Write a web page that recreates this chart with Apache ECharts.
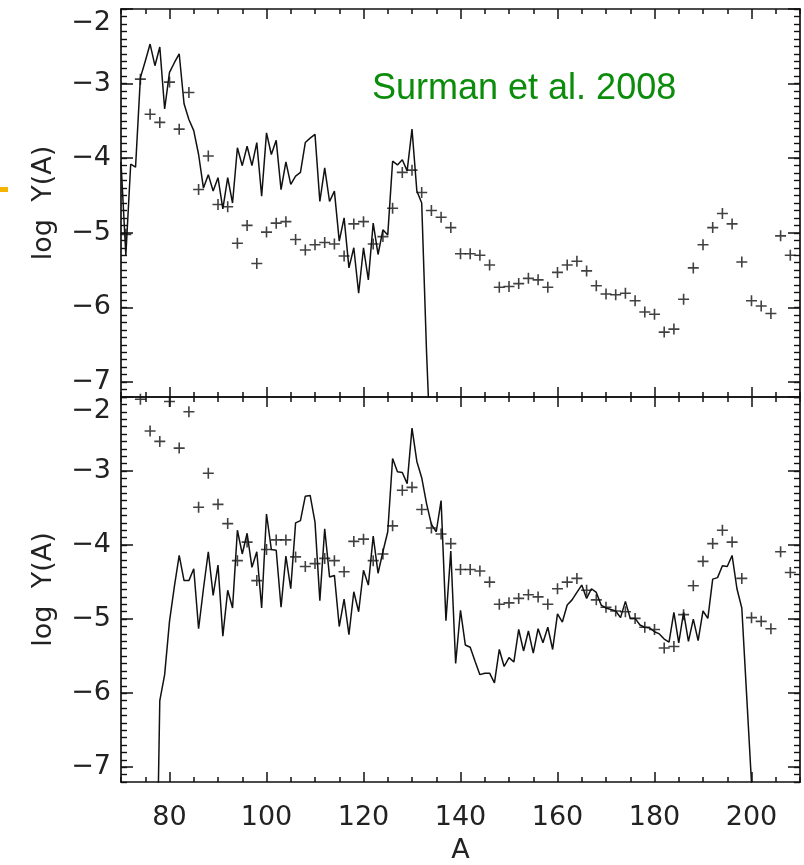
<!DOCTYPE html>
<html>
<head>
<meta charset="utf-8">
<script src="https://cdn.jsdelivr.net/npm/echarts@6/dist/echarts.min.js"></script>
<style>
html,body{margin:0;padding:0;background:#fff;}
#chart{width:804px;height:865px;}
</style>
</head>
<body>
<div id="chart"></div>
<script>
// ---- data ----
const xMajorTicks = [80, 100, 120, 140, 160, 180, 200];
const xTickLabels = ['80', '100', '120', '140', '160', '180', '200'];
const yMajorTicks = [-7, -6, -5, -4, -3, -2];
const yTickLabels = ['\u22127', '\u22126', '\u22125', '\u22124', '\u22123', '\u22122'];
const xName = 'A';
const yName = 'log  Y(A)';
const noteText = 'Surman et al. 2008';

// top panel: calculated abundances (solid line), first A = 70, one value per A
const topLineA0 = 70;
const topLineV = [-4.05, -5.30, -4.08, -4.12, -2.92, -2.70, -2.47, -2.76, -2.51, -3.34,
  -2.85, -2.72, -2.60, -3.27, -3.48, -3.63, -3.95, -4.40, -4.22, -4.44,
  -4.26, -4.68, -4.26, -4.60, -3.86, -4.10, -3.84, -4.10, -3.79, -4.51,
  -3.66, -3.95, -3.76, -4.42, -4.05, -4.35, -4.24, -4.19, -3.79, -3.73,
  -3.68, -4.58, -4.13, -4.58, -4.44, -5.11, -4.80, -5.47, -5.20, -5.81,
  -5.20, -5.63, -4.87, -5.29, -4.96, -5.03, -4.04, -4.09, -4.02, -4.17,
  -3.61, -4.44, -4.60, -6.60, -8.20];

// top panel: solar r-process abundances (+)
const topObsA = [71, 74, 76, 78, 80, 82, 84, 86, 88, 90, 92, 94, 96, 98, 100, 102, 104, 106, 108, 110,
  112, 114, 116, 118, 120, 122, 124, 126, 128, 130, 132, 134, 136, 138, 140, 142, 144, 146, 148, 150,
  152, 154, 156, 158, 160, 162, 164, 166, 168, 170, 172, 174, 176, 178, 180, 182, 184, 186, 188, 190,
  192, 194, 196, 198, 200, 202, 204, 206, 208];
const topObsV = [-5.02, -2.94, -3.41, -3.52, -2.98, -3.61, -3.12, -4.42, -3.97, -4.62, -4.65, -5.14, -4.90, -5.41, -4.99, -4.87, -4.85, -5.09, -5.23, -5.16,
  -5.13, -5.15, -5.31, -4.88, -4.85, -5.15, -5.05, -4.67, -4.19, -4.16, -4.46, -4.70, -4.79, -4.93, -5.28, -5.28, -5.30, -5.43, -5.73, -5.72,
  -5.68, -5.61, -5.63, -5.73, -5.53, -5.43, -5.38, -5.51, -5.71, -5.82, -5.83, -5.81, -5.91, -6.06, -6.09, -6.33, -6.29, -5.89, -5.47, -5.16,
  -4.93, -4.74, -4.88, -5.39, -5.91, -5.98, -6.08, -5.04, -5.30];

// bottom panel: calculated abundances (solid line), first A = 77
const botLineA0 = 77;
const botLineV = [-10.0, -6.10, -5.75, -5.03, -4.56, -4.14, -4.48, -4.48, -4.32, -5.13,
  -4.59, -4.09, -4.68, -4.27, -5.23, -4.61, -4.85, -3.80, -4.12, -3.84,
  -4.30, -4.09, -4.85, -3.58, -4.06, -4.07, -4.84, -4.15, -4.59, -3.70,
  -3.67, -3.34, -3.33, -3.69, -4.75, -3.78, -4.43, -4.41, -5.10, -4.73,
  -5.21, -4.63, -4.90, -4.34, -4.54, -3.88, -4.38, -4.09, -3.82, -2.83,
  -3.01, -3.02, -3.17, -2.42, -2.87, -3.09, -3.44, -3.72, -3.82, -3.40,
  -5.02, -4.08, -5.60, -4.88, -5.35, -5.38, -5.57, -5.75, -5.73, -5.73,
  -5.86, -5.41, -5.64, -5.52, -5.58, -5.14, -5.43, -5.16, -5.46, -5.13,
  -5.32, -5.11, -5.41, -4.93, -5.04, -4.81, -4.74, -4.64, -4.54, -4.72,
  -4.59, -4.64, -4.81, -4.85, -4.87, -4.89, -4.98, -4.76, -4.99, -4.99,
  -5.08, -5.11, -5.12, -5.17, -5.20, -5.27, -5.31, -4.91, -5.32, -4.91,
  -5.30, -5.00, -5.29, -4.89, -4.99, -4.46, -4.44, -4.28, -4.29, -4.14,
  -4.59, -4.85, -6.03, -7.21, -8.40];

// bottom panel: solar r-process abundances (+)
const botObsA = [74, 76, 78, 80, 82, 84, 86, 88, 90, 92, 94, 96, 98, 100, 102, 104, 106, 108, 110, 112,
  114, 116, 118, 120, 122, 124, 126, 128, 130, 132, 134, 136, 138, 140, 142, 144, 146, 148, 150, 152,
  154, 156, 158, 160, 162, 164, 166, 168, 170, 172, 174, 176, 178, 180, 182, 184, 186, 188, 190, 192,
  194, 196, 198, 200, 202, 204, 206, 208];
const botObsV = [-2.03, -2.46, -2.60, -2.06, -2.69, -2.20, -3.49, -3.03, -3.45, -3.71, -4.21, -3.96, -4.48, -4.06, -3.93, -3.93, -4.16, -4.29, -4.25, -4.18,
  -4.21, -4.36, -3.95, -3.92, -4.21, -4.12, -3.74, -3.26, -3.22, -3.52, -3.77, -3.85, -3.98, -4.33, -4.33, -4.35, -4.50, -4.80, -4.78, -4.72,
  -4.67, -4.70, -4.80, -4.59, -4.50, -4.45, -4.61, -4.74, -4.84, -4.89, -4.90, -4.99, -5.11, -5.14, -5.39, -5.37, -4.94, -4.55, -4.22, -3.98,
  -3.80, -3.96, -4.45, -4.98, -5.03, -5.13, -4.09, -4.37];

// ---- build ----
const AX = '#111';
const TXT = '#222';
const FONT = '"DejaVu Sans", sans-serif';
const FS = 27;

function seq(a0, vals) { return vals.map((v, i) => [a0 + i, v]); }
function pairs(as, vs) { return as.map((a, i) => [a, vs[i]]); }

function xAxes(g) {
  const base = {gridIndex: g, type: 'value', min: 70, max: 210, splitLine: {show: false}};
  const major = (pos, labels) => Object.assign({}, base, {
    position: pos,
    axisLine: {show: true, onZero: false, lineStyle: {color: AX, width: 1.7}},
    axisTick: {show: true, inside: true, length: 10, customValues: xMajorTicks, lineStyle: {color: AX, width: 1.5}},
    axisLabel: {show: labels, customValues: xMajorTicks, margin: 22,
      formatter: v => xTickLabels[xMajorTicks.indexOf(v)] || '',
      fontSize: FS, fontFamily: FONT, color: TXT},
    name: labels ? xName : '', nameLocation: 'middle', nameGap: 55,
    nameTextStyle: {fontSize: FS, fontFamily: FONT, color: TXT}
  });
  const minor = pos => Object.assign({}, base, {
    position: pos, interval: 5,
    axisLine: {show: false, onZero: false},
    axisTick: {show: true, inside: true, length: 5, lineStyle: {color: AX, width: 1.5}},
    axisLabel: {show: false}
  });
  return [major('bottom', g === 1), major('top', false), minor('bottom'), minor('top')];
}

function yAxes(g) {
  const base = {gridIndex: g, type: 'value', min: -7.2, max: -2, splitLine: {show: false}};
  const major = (pos, labels) => Object.assign({}, base, {
    position: pos,
    axisLine: {show: true, onZero: false, lineStyle: {color: AX, width: 1.7}},
    axisTick: {show: true, inside: true, length: 12, customValues: yMajorTicks, lineStyle: {color: AX, width: 1.5}},
    axisLabel: {show: labels, customValues: yMajorTicks, margin: 10,
      formatter: v => {
        const s = yTickLabels[yMajorTicks.indexOf(v)] || '';
        return v === yMajorTicks[yMajorTicks.length - 1] ? '{t|' + s + '}' : s;
      },
      rich: {t: {fontSize: FS, fontFamily: FONT, color: TXT, padding: [28, 0, 0, 0]}},
      fontSize: FS, fontFamily: FONT, color: TXT},
    name: labels ? yName : '', nameLocation: 'middle', nameGap: 64,
    nameTextStyle: {fontSize: FS, fontFamily: FONT, color: TXT}
  });
  const minor = pos => Object.assign({}, base, {
    position: pos, interval: 0.1,
    axisLine: {show: false, onZero: false},
    axisTick: {show: true, inside: true, length: 6, lineStyle: {color: AX, width: 1.4}},
    axisLabel: {show: false}
  });
  return [major('left', true), major('right', false), minor('left'), minor('right')];
}

const plusSymbol = 'path://M0,6L12,6M6,0L6,12';

function lineSeries(g, data) {
  return {type: 'line', xAxisIndex: g * 4, yAxisIndex: g * 4, data: data, symbol: 'none',
    clip: true, lineStyle: {color: '#111', width: 1.5}, z: 3};
}
function plusSeries(g, data) {
  return {type: 'scatter', xAxisIndex: g * 4, yAxisIndex: g * 4, data: data, symbol: plusSymbol,
    symbolSize: 11, clip: true, itemStyle: {color: 'none', borderColor: '#111', borderWidth: 1.6}, z: 4};
}

const chart = echarts.init(document.getElementById('chart'), null, {renderer: 'canvas'});
chart.setOption({
  animation: false,
  backgroundColor: '#fff',
  grid: [
    {left: 121, top: 9, width: 679, height: 388},
    {left: 121, top: 397, width: 679, height: 387}
  ],
  xAxis: xAxes(0).concat(xAxes(1)),
  yAxis: yAxes(0).concat(yAxes(1)),
  series: [
    lineSeries(0, seq(topLineA0, topLineV)),
    plusSeries(0, pairs(topObsA, topObsV)),
    lineSeries(1, seq(botLineA0, botLineV)),
    plusSeries(1, pairs(botObsA, botObsV))
  ],
  graphic: [
    {type: 'text', left: 372, top: 71, z: 10,
      style: {text: noteText, fill: '#0b8c0b', fontSize: 36, fontFamily: '"Liberation Sans", Arial, sans-serif'}},
    {type: 'rect', shape: {x: 0, y: 187, width: 8, height: 5}, style: {fill: '#f5b400'}, z: 10}
  ]
});
</script>
</body>
</html>
